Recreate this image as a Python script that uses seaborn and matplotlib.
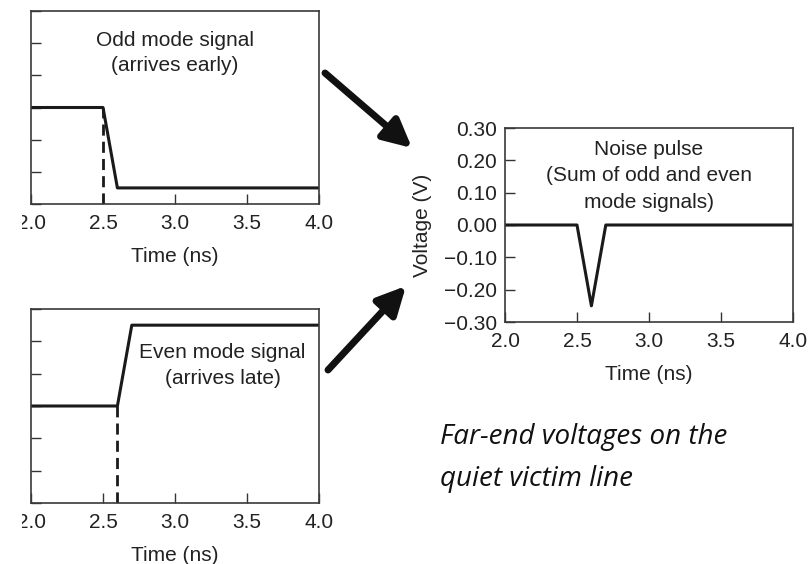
import matplotlib
matplotlib.use("Agg")
import matplotlib.pyplot as plt
from matplotlib.patches import Rectangle, FancyArrowPatch
import pandas as pd
import seaborn as sns

# Far-end waveforms on the quiet victim line
time_odd = [2.0, 2.5, 2.6, 4.0]
volt_odd = [0.0, 0.0, -0.25, -0.25]
time_even = [2.0, 2.6, 2.7, 4.0]
volt_even = [0.0, 0.0, 0.25, 0.25]
time_noise = [2.0, 2.5, 2.6, 2.7, 4.0]
volt_noise = [0.0, 0.0, -0.25, 0.0, 0.0]

odd_edge = 2.5
even_edge = 2.6

x_ticks = [2.0, 2.5, 3.0, 3.5, 4.0]
x_labels = ["2.0", "2.5", "3.0", "3.5", "4.0"]
y_ticks = [-0.30, -0.20, -0.10, 0.00, 0.10, 0.20, 0.30]
y_labels = ["\u22120.30", "\u22120.20", "\u22120.10", "0.00", "0.10", "0.20", "0.30"]

sns.set_theme(style="white")
plt.rcParams["font.family"] = ["Liberation Sans", "DejaVu Sans"]

INK = "#1a1a1a"
TXT = "#222222"
FS = 15

fig = plt.figure(figsize=(8.08, 5.64), dpi=100)
W, H = 808, 564


def box(l, t, r, b):
    return [l / W, 1 - b / H, (r - l) / W, (b - t) / H]


ax_odd = fig.add_axes(box(31, 11, 319, 204))
ax_even = fig.add_axes(box(31, 309, 319, 503))
ax_noise = fig.add_axes(box(505, 128, 793, 322))


def style(ax, show_y=True):
    ax.set_xlim(2.0, 4.0)
    ax.set_ylim(-0.30, 0.30)
    ax.set_xticks(x_ticks)
    ax.set_xticklabels(x_labels)
    ax.set_yticks(y_ticks)
    ax.set_yticklabels(y_labels if show_y else [""] * len(y_ticks))
    ax.tick_params(direction="in", length=7.5, width=1.0, color="#333333",
                   labelsize=FS, labelcolor=TXT, bottom=True, left=True)
    ax.tick_params(axis="x", pad=7)
    ax.tick_params(axis="y", pad=6)
    for s in ax.spines.values():
        s.set_color("#3a3a3a")
        s.set_linewidth(1.2)
    ax.set_xlabel("Time (ns)", fontsize=FS, color=TXT, labelpad=10)
    ax.set_ylabel("")


df_odd = pd.DataFrame({"t": time_odd, "v": volt_odd})
df_even = pd.DataFrame({"t": time_even, "v": volt_even})
df_noise = pd.DataFrame({"t": time_noise, "v": volt_noise})

sns.lineplot(data=df_odd, x="t", y="v", ax=ax_odd, color=INK, lw=2.2,
             sort=False, estimator=None)
ax_odd.plot([odd_edge, odd_edge], [-0.30, 0.0], color=INK, lw=2.0,
            ls=(0, (4, 2.2)))
style(ax_odd, show_y=False)
ax_odd.text(3.0, 0.169, "Odd mode signal\n(arrives early)", ha="center",
            va="center", fontsize=FS, color=TXT, linespacing=1.38)

sns.lineplot(data=df_even, x="t", y="v", ax=ax_even, color=INK, lw=2.2,
             sort=False, estimator=None)
ax_even.plot([even_edge, even_edge], [-0.30, 0.0], color=INK, lw=2.0,
             ls=(0, (4, 2.2)))
style(ax_even, show_y=False)
ax_even.text(3.33, 0.125, "Even mode signal\n(arrives late)", ha="center",
             va="center", fontsize=FS, color=TXT, linespacing=1.44)

sns.lineplot(data=df_noise, x="t", y="v", ax=ax_noise, color=INK, lw=2.2,
             sort=False, estimator=None)
style(ax_noise)
ax_noise.set_ylabel("Voltage (V)", fontsize=FS, color=TXT, labelpad=8)
ax_noise.text(3.0, 0.152, "Noise pulse\n(Sum of odd and even\nmode signals)",
              ha="center", va="center", fontsize=FS, color=TXT,
              linespacing=1.5)

# Arrows feeding both mode signals into the noise pulse
arrow_kw = dict(arrowstyle="-|>,head_length=1.0,head_width=0.5",
                lw=5, color="#111111", mutation_scale=17,
                shrinkA=0, shrinkB=0)
fig.add_artist(FancyArrowPatch((325, H - 73), (412, H - 148),
                               transform=None, **arrow_kw))
fig.add_artist(FancyArrowPatch((328, H - 370), (406, H - 286),
                               transform=None, **arrow_kw))

fig.text(440 / W, 1 - 458 / H, "Far-end voltages on the\nquiet victim line",
         fontsize=20, style="italic", family=["Open Sans", "DejaVu Sans"],
         color="#111111", ha="left", va="center", linespacing=1.65)

# Left margin trimmed flush
fig.add_artist(Rectangle((0, 0), 22 / W, 1, transform=fig.transFigure,
                         facecolor="white", edgecolor="none", zorder=20))

fig.savefig("out.png", dpi=100)
